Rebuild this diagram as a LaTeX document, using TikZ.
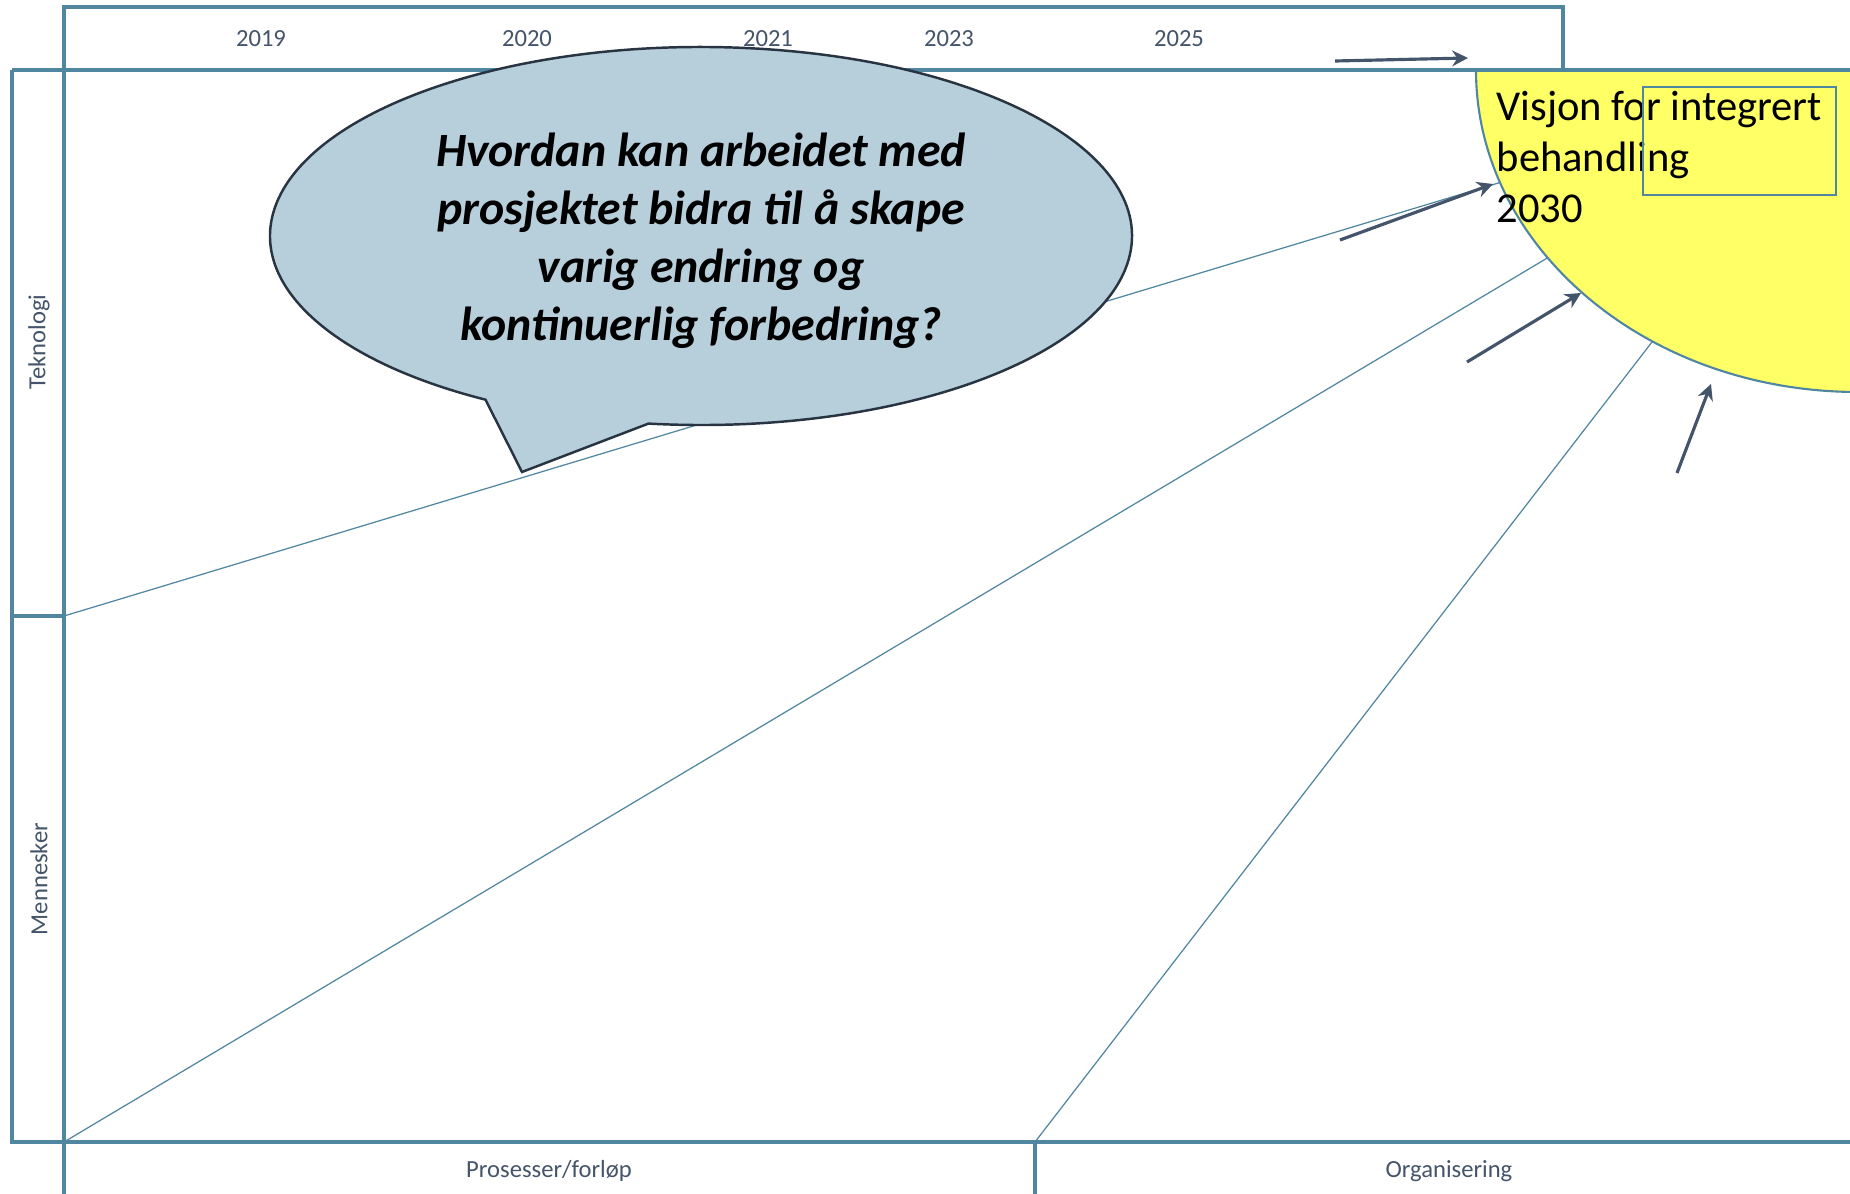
\documentclass[tikz,border=0pt]{standalone}
\usepackage{fontspec}
\setmainfont{Carlito}
\usetikzlibrary{arrows.meta}

\definecolor{framecol}{RGB}{80,134,160}
\definecolor{labelcol}{RGB}{68,84,106}
\definecolor{arrowcol}{RGB}{68,84,106}
\definecolor{bubblefill}{RGB}{183,206,219}
\definecolor{bubbleline}{RGB}{40,52,66}
\definecolor{visionfill}{RGB}{255,255,102}

\begin{document}
\begin{tikzpicture}[
  x=0.01cm, y=-0.01cm,
  font=\fontsize{7}{8.4}\selectfont,
  >={Stealth[length=4.5pt, width=4.5pt]},
  frame/.style={draw=framecol, line width=0.9pt},
  ray/.style={draw=framecol, line width=0.35pt},
  axislabel/.style={text=labelcol, inner sep=0pt},
  pointer/.style={->, draw=arrowcol, line width=0.9pt},
  bubble/.style={fill=bubblefill, draw=bubbleline, line width=0.7pt},
  question/.style={
    align=center, inner sep=0pt,
    font=\fontsize{13.6}{16.5}\selectfont\bfseries\itshape
  },
  visiontext/.style={
    align=left, inner sep=0pt,
    font=\fontsize{12.1}{14.5}\selectfont
  },
  markbox/.style={draw=framecol, line width=0.6pt, inner sep=0pt,
    minimum width=1.93cm, minimum height=1.08cm}
]
\useasboundingbox (0,0) rectangle (1850,1194);
\clip (0,0) rectangle (1850,1194);

% Ray anchors
\coordinate (tekcorner) at (64,616);
\coordinate (mencorner) at (64,1142);
\coordinate (orgcorner) at (1035,1142);
\coordinate (tekend) at (1505,181);
\coordinate (menend) at (1549,257);
\coordinate (orgend) at (1652,342);

% Rays towards the vision
\draw[ray] (tekcorner) -- (tekend);
\draw[ray] (mencorner) -- (menend);
\draw[ray] (orgcorner) -- (orgend);

% Vision quarter
\fill[visionfill] (1476,70) arc[start angle=180, end angle=90,
  x radius=382, y radius=322] -- (1858,70) -- cycle;
\draw[framecol, line width=0.6pt] (1476,70) arc[start angle=180,
  end angle=90, x radius=382, y radius=322];

% Frame
\draw[frame] (64,1194) -- (64,7) -- (1563,7) -- (1563,70);
\draw[frame] (12,70) -- (1850,70);
\draw[frame] (12,70) -- (12,1142) -- (1850,1142);
\draw[frame] (12,616) -- (64,616);
\draw[frame] (1035,1142) -- (1035,1194);

% Years
\node[axislabel] (y2019) at (261,39) {2019};
\node[axislabel] (y2020) at (527,39) {2020};
\node[axislabel] (y2021) at (768,39) {2021};
\node[axislabel] (y2023) at (949,39) {2023};
\node[axislabel] (y2025) at (1179,39) {2025};

% Side and bottom labels
\node[axislabel, rotate=90] (tek) at (39,342) {Teknologi};
\node[axislabel, rotate=90] (men) at (39,879) {Mennesker};
\node[axislabel] (pros) at (549,1171) {Prosesser/forløp};
\node[axislabel] (org) at (1449,1171) {Organisering};

% Vision text and box
\node[visiontext, anchor=north west] (vision) at (1496,91)
{Visjon for integrert\\behandling\\2030};
\node[markbox] (visionbox) at (1739.5,141) {};

% Speech bubble
\coordinate (bubc) at (701,236);
\coordinate (bubtip) at (522,472);
\path[bubble] ([shift={(97:431 and 189)}]bubc)
  arc[start angle=97, end angle=-240, x radius=431, y radius=189]
  -- (bubtip) -- cycle;
\node[question] (ask) at (701,241)
{Hvordan kan arbeidet med\\prosjektet bidra til å skape\\varig endring og\\kontinuerlig forbedring?};

% Pointers
\coordinate (p1s) at (1335,61);  \coordinate (p1e) at (1468,58);
\coordinate (p2s) at (1340,240); \coordinate (p2e) at (1493,184);
\coordinate (p3s) at (1467,362); \coordinate (p3e) at (1581,293);
\coordinate (p4s) at (1677,473); \coordinate (p4e) at (1711,384);
\draw[pointer] (p1s) -- (p1e);
\draw[pointer] (p2s) -- (p2e);
\draw[pointer] (p3s) -- (p3e);
\draw[pointer] (p4s) -- (p4e);

\end{tikzpicture}
\end{document}
